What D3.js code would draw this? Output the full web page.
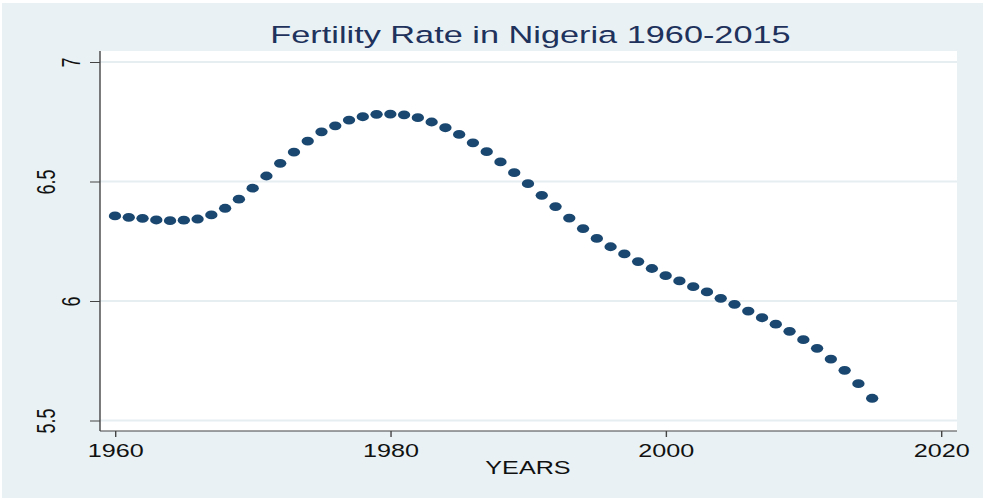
<!DOCTYPE html>
<html lang="en">
  <head>
    <meta charset="utf-8" />
    <title>Fertility Rate in Nigeria 1960-2015</title>
    <style>
      body { margin: 0; background: #fff; }
      svg { display: block; font-family: "Liberation Sans", Arial, sans-serif; }
    </style>
  </head>
  <body>
    <div id="chart"></div>
    <script src="https://cdn.jsdelivr.net/npm/d3@7"></script>
<script>
var years = [1960, 1961, 1962, 1963, 1964, 1965, 1966, 1967, 1968, 1969,
  1970, 1971, 1972, 1973, 1974, 1975, 1976, 1977, 1978, 1979,
  1980, 1981, 1982, 1983, 1984, 1985, 1986, 1987, 1988, 1989,
  1990, 1991, 1992, 1993, 1994, 1995, 1996, 1997, 1998, 1999,
  2000, 2001, 2002, 2003, 2004, 2005, 2006, 2007, 2008, 2009,
  2010, 2011, 2012, 2013, 2014, 2015];

var fertility = [6.356, 6.350, 6.346, 6.339, 6.336, 6.338, 6.343, 6.360, 6.388, 6.426,
  6.472, 6.523, 6.576, 6.623, 6.669, 6.708, 6.733, 6.757, 6.771, 6.781,
  6.782, 6.779, 6.767, 6.749, 6.725, 6.697, 6.662, 6.625, 6.582, 6.537,
  6.491, 6.442, 6.395, 6.347, 6.303, 6.262, 6.227, 6.197, 6.165, 6.136,
  6.106, 6.084, 6.060, 6.038, 6.011, 5.986, 5.958, 5.930, 5.903, 5.873,
  5.838, 5.802, 5.757, 5.710, 5.654, 5.593];

var xTicks = [1960, 1980, 2000, 2020];
var yTicks = [5.5, 6, 6.5, 7];

var title = "Fertility Rate in Nigeria 1960-2015";
var xTitle = "YEARS";

// the picture is stretched sideways, so draw in a narrower box and let the viewBox widen it
var S = 1.4;
var W = 986, H = 500;

var plot = { left: 100, right: 957, top: 51, bottom: 431 };

var svg = d3.select("#chart")
  .append("svg")
  .attr("width", W)
  .attr("height", H)
  .attr("viewBox", "0 0 " + (W / S) + " " + H)
  .attr("preserveAspectRatio", "none");

var x = d3.scaleLinear()
  .domain([1960, 2020])
  .range([115 / S, 941 / S]);

var y = d3.scaleLinear()
  .domain([5.5, 7])
  .range([420.5, 62]);

// outer background
svg.append("rect")
  .attr("x", 2 / S).attr("y", 3)
  .attr("width", (983 - 2) / S).attr("height", 498 - 3)
  .attr("fill", "#e9f1f4");

// plot region
svg.append("rect")
  .attr("x", plot.left / S).attr("y", plot.top)
  .attr("width", (plot.right - plot.left) / S)
  .attr("height", plot.bottom - plot.top)
  .attr("fill", "#fff");

// grid lines
svg.append("g")
  .selectAll("line")
  .data(yTicks)
  .enter().append("line")
  .attr("x1", plot.left / S)
  .attr("x2", plot.right / S)
  .attr("y1", function(d) { return y(d); })
  .attr("y2", function(d) { return y(d); })
  .attr("stroke", "#e6eef2")
  .attr("stroke-width", 1.8);

// y axis
var yAxis = svg.append("g")
  .attr("transform", "translate(" + (plot.left / S) + ",0)")
  .call(d3.axisLeft(y)
    .tickValues(yTicks)
    .tickSize(10 / S)
    .tickSizeOuter(0)
    .tickFormat(d3.format("")));

yAxis.select(".domain").remove();
yAxis.selectAll(".tick line").attr("stroke", "#444");
yAxis.selectAll(".tick text")
  .attr("fill", "#111")
  .style("font-size", "18px")
  .attr("text-anchor", "middle")
  .attr("x", null)
  .attr("dy", "0.36em")
  .attr("transform", function() {
    var n = this.textContent.length;
    var off = -(29 + (n - 1) * 12.75) / S;
    return "translate(" + off + ",0) rotate(-90)";
  });

svg.append("line")
  .attr("x1", plot.left / S).attr("x2", plot.left / S)
  .attr("y1", plot.top).attr("y2", plot.bottom)
  .attr("stroke", "#444")
  .attr("stroke-width", 1);

// x axis
var xAxis = svg.append("g")
  .attr("transform", "translate(0," + plot.bottom + ")")
  .call(d3.axisBottom(x)
    .tickValues(xTicks)
    .tickSize(6)
    .tickSizeOuter(0)
    .tickPadding(7)
    .tickFormat(d3.format("d")));

xAxis.select(".domain").remove();
xAxis.selectAll(".tick line").attr("stroke", "#444");
xAxis.selectAll(".tick text")
  .attr("fill", "#111")
  .style("font-size", "18px");

svg.append("line")
  .attr("x1", plot.left / S).attr("x2", plot.right / S)
  .attr("y1", plot.bottom).attr("y2", plot.bottom)
  .attr("stroke", "#444")
  .attr("stroke-width", 1);

// points
svg.append("g")
  .selectAll("circle")
  .data(years)
  .enter().append("circle")
  .attr("cx", function(d) { return x(d); })
  .attr("cy", function(d, i) { return y(fertility[i]); })
  .attr("r", 4.4)
  .attr("fill", "#1a476f");

// titles
svg.append("text")
  .attr("x", (plot.left + plot.right) / 2 / S + 2 / S)
  .attr("y", 43)
  .attr("text-anchor", "middle")
  .attr("fill", "#1e325c")
  .style("font-size", "24.5px")
  .text(title);

svg.append("text")
  .attr("x", 528 / S)
  .attr("y", 474)
  .attr("text-anchor", "middle")
  .attr("fill", "#111")
  .style("font-size", "18px")
  .text(xTitle);
</script>
  </body>
</html>
